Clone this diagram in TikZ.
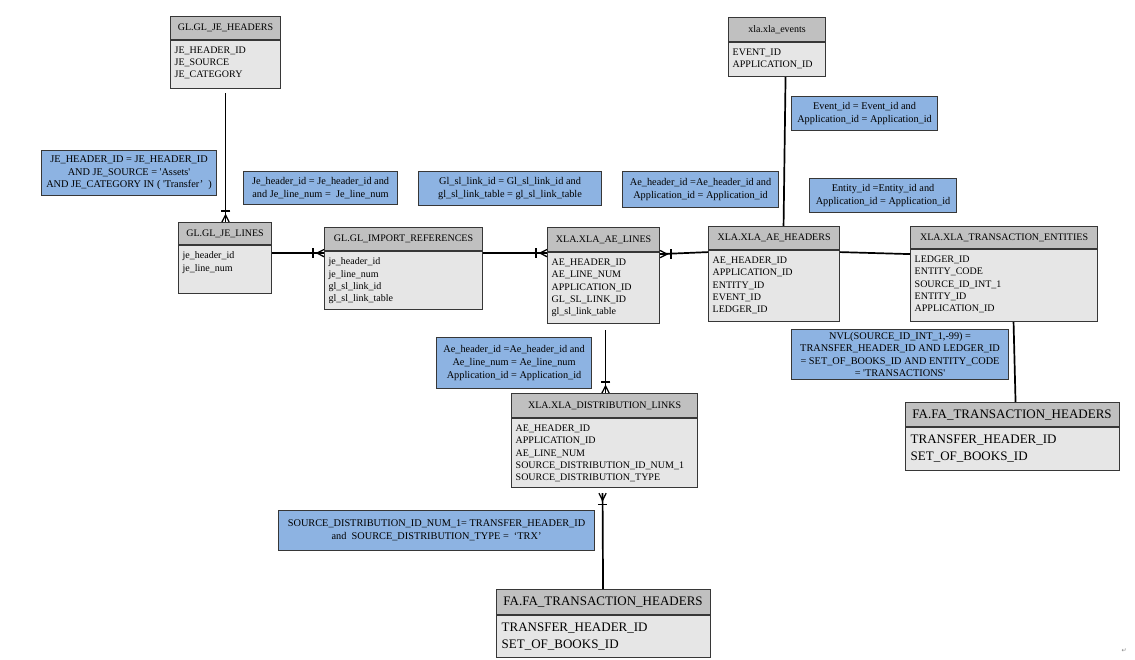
\documentclass[tikz,border=0pt]{standalone}
\usepackage{fontspec}
\setmainfont{Liberation Serif}[Ligatures=TeXOff]
\newfontfamily\symfont{DejaVu Sans}
\usetikzlibrary{calc}
\definecolor{hdrgray}{RGB}{192,192,192}
\definecolor{bodygray}{RGB}{230,230,230}
\definecolor{lblblue}{RGB}{141,179,226}
\definecolor{edgegray}{RGB}{55,55,55}
\tikzset{
  hdr/.style={draw=edgegray, fill=hdrgray, line width=1.1pt, anchor=north west, inner sep=0pt,
    font=\fontsize{10}{12}\selectfont},
  bdy/.style={draw=edgegray, fill=bodygray, line width=1.1pt, anchor=north west, inner sep=0pt},
  fld/.style={anchor=north west, inner sep=0pt, align=left, xshift=4.5pt, yshift=-6.5pt,
    font=\fontsize{10}{12.3}\selectfont},
  big/.style={font=\fontsize{13}{16.5}\selectfont},
  bigf/.style={xshift=1.5pt, yshift=-1.2pt},
  lbl/.style={draw=edgegray, fill=lblblue, line width=1.1pt, anchor=north west, inner sep=0pt,
    align=center, font=\fontsize{10.3}{12.6}\selectfont},
  conn/.style={line width=1.7pt, black},
  foot/.style={line width=1.3pt, black},
}
% #1 text style, #2 name, #3 x, #4 y, #5 width, #6 header height, #7 body height, #8 title, #9 fields
\newcommand{\erbox}[9][]{%
  \node[hdr,#1,minimum width=#5pt,minimum height=#6pt] (#2-h) at (#3,#4) {#8};
  \node[bdy,minimum width=#5pt,minimum height=#7pt] (#2) at (#2-h.south west) {};
  \node[fld,#1] (#2-f) at (#2.north west) {#9};
}
\newcommand{\crowfoot}[2]{%
  \begin{scope}[shift={(#1)}, rotate=#2]
    \draw[foot] (0,3.6) -- (7,0) -- (0,-3.6);
    \draw[foot] (11,4.8) -- (11,-4.8);
  \end{scope}}
\begin{document}
\begin{tikzpicture}[x=1pt,y=-1pt]
\fill[white] (0,0) rectangle (1135,660);
\useasboundingbox (0,0) rectangle (1135,660);

% entities
\erbox{jeh}{170}{16}{110}{23}{48}{GL.GL\_JE\_HEADERS}{JE\_HEADER\_ID\\JE\_SOURCE\\JE\_CATEGORY}
\erbox{xev}{728}{17}{97}{24}{34}{xla.xla\_events}{EVENT\_ID\\APPLICATION\_ID}
\erbox{jel}{178}{222}{93}{22}{48}{GL.GL\_JE\_LINES}{je\_header\_id\\je\_line\_num}
\erbox{gir}{324}{227}{158}{23}{58}{GL.GL\_IMPORT\_REFERENCES}{je\_header\_id\\je\_line\_num\\gl\_sl\_link\_id\\gl\_sl\_link\_table}
\erbox{ael}{547}{227}{112}{24}{71}{XLA.XLA\_AE\_LINES}{AE\_HEADER\_ID\\AE\_LINE\_NUM\\APPLICATION\_ID\\GL\_SL\_LINK\_ID\\gl\_sl\_link\_table}
\erbox{aeh}{708}{226}{131}{23}{71}{XLA.XLA\_AE\_HEADERS}{AE\_HEADER\_ID\\APPLICATION\_ID\\ENTITY\_ID\\EVENT\_ID\\LEDGER\_ID}
\erbox{xte}{910}{226}{187}{22}{72}{XLA.XLA\_TRANSACTION\_ENTITIES}{LEDGER\_ID\\ENTITY\_CODE\\SOURCE\_ID\_INT\_1\\ENTITY\_ID\\APPLICATION\_ID}
\erbox[big,bigf]{fa1}{903}{401}{214}{24}{43}{FA.FA\_TRANSACTION\_HEADERS}{TRANSFER\_HEADER\_ID\\SET\_OF\_BOOKS\_ID}
\erbox{dis}{511}{393}{186}{24}{69}{XLA.XLA\_DISTRIBUTION\_LINKS}{AE\_HEADER\_ID\\APPLICATION\_ID\\AE\_LINE\_NUM\\SOURCE\_DISTRIBUTION\_ID\_NUM\_1\\SOURCE\_DISTRIBUTION\_TYPE}
\erbox[big,bigf]{fa2}{494}{588}{214}{25}{42}{FA.FA\_TRANSACTION\_HEADERS}{TRANSFER\_HEADER\_ID\\SET\_OF\_BOOKS\_ID}

% labels
\node[lbl,minimum width=175pt,minimum height=45pt] (la) at (41,150)
  {JE\_HEADER\_ID = JE\_HEADER\_ID\\AND JE\_SOURCE = 'Assets'\\AND JE\_CATEGORY IN ( 'Transfer’~~)};
\node[lbl,minimum width=154pt,minimum height=33pt] (lb) at (243,171)
  {Je\_header\_id = Je\_header\_id and\\and Je\_line\_num =~~Je\_line\_num};
\node[lbl,minimum width=183pt,minimum height=34pt] (lc) at (418,171)
  {Gl\_sl\_link\_id = Gl\_sl\_link\_id and\\gl\_sl\_link\_table = gl\_sl\_link\_table};
\node[lbl,minimum width=156pt,minimum height=36pt] (ld) at (622,171)
  {Ae\_header\_id =Ae\_header\_id and\\Application\_id = Application\_id};
\node[lbl,minimum width=146pt,minimum height=34pt] (le) at (791,96)
  {Event\_id = Event\_id and\\Application\_id = Application\_id};
\node[lbl,minimum width=147pt,minimum height=34pt] (lf) at (809,178)
  {Entity\_id =Entity\_id and\\Application\_id = Application\_id};
\node[lbl,minimum width=217pt,minimum height=50pt] (lg) at (791,329)
  {NVL(SOURCE\_ID\_INT\_1,-99) =\\TRANSFER\_HEADER\_ID AND LEDGER\_ID\\= SET\_OF\_BOOKS\_ID AND ENTITY\_CODE\\= 'TRANSACTIONS'};
\node[lbl,minimum width=155pt,minimum height=51pt] (lh) at (436,337)
  {Ae\_header\_id =Ae\_header\_id and\\Ae\_line\_num = Ae\_line\_num\\Application\_id = Application\_id};
\node[lbl,minimum width=316pt,minimum height=40pt] (li) at (278,510)
  {SOURCE\_DISTRIBUTION\_ID\_NUM\_1= TRANSFER\_HEADER\_ID\\and~~SOURCE\_DISTRIBUTION\_TYPE =~~‘TRX’};

% connector end points
\coordinate (c1) at ([xshift=0.5pt]jel-h.north);
\coordinate (c2) at ([yshift=-2pt]gir-h.south west);
\coordinate (c3) at ([yshift=-1pt]ael-h.south west);
\coordinate (c4) at ([yshift=-2pt]ael-h.south east);
\coordinate (c8) at ([xshift=1pt]dis-h.north);
\coordinate (c9) at ([xshift=-2pt,yshift=-5pt]dis.south);

% connectors
\draw[conn, shorten <=4pt] (jeh.south) -- (c1);
\crowfoot{c1}{90}
\draw[conn] ([yshift=-8pt]jel-h.south east) -- (c2);
\crowfoot{c2}{180}
\draw[conn] ([yshift=-2pt]gir-h.south east) -- (c3);
\crowfoot{c3}{180}
\draw[conn] (c4) -- ([yshift=-2pt]aeh-h.south west);
\crowfoot{c4}{0}
\draw[conn] ([xshift=8.5pt]xev.south) -- ([xshift=9.5pt]aeh-h.north);
\draw[conn] ([yshift=-2pt]aeh-h.south east) -- ([yshift=-5pt]xte-h.south west);
\draw[conn] ([xshift=9.5pt]xte.south) -- ([xshift=3.5pt]fa1-h.north);
\draw[conn, shorten <=6pt] ([xshift=2pt]ael.south) -- (c8);
\crowfoot{c8}{90}
\draw[conn] (c9) -- (fa2-h.north);
\crowfoot{c9}{270}

\node[font=\symfont\fontsize{6}{7}\selectfont, text=gray, inner sep=0pt] (ret) at (1124,651) {↵};
\end{tikzpicture}
\end{document}
